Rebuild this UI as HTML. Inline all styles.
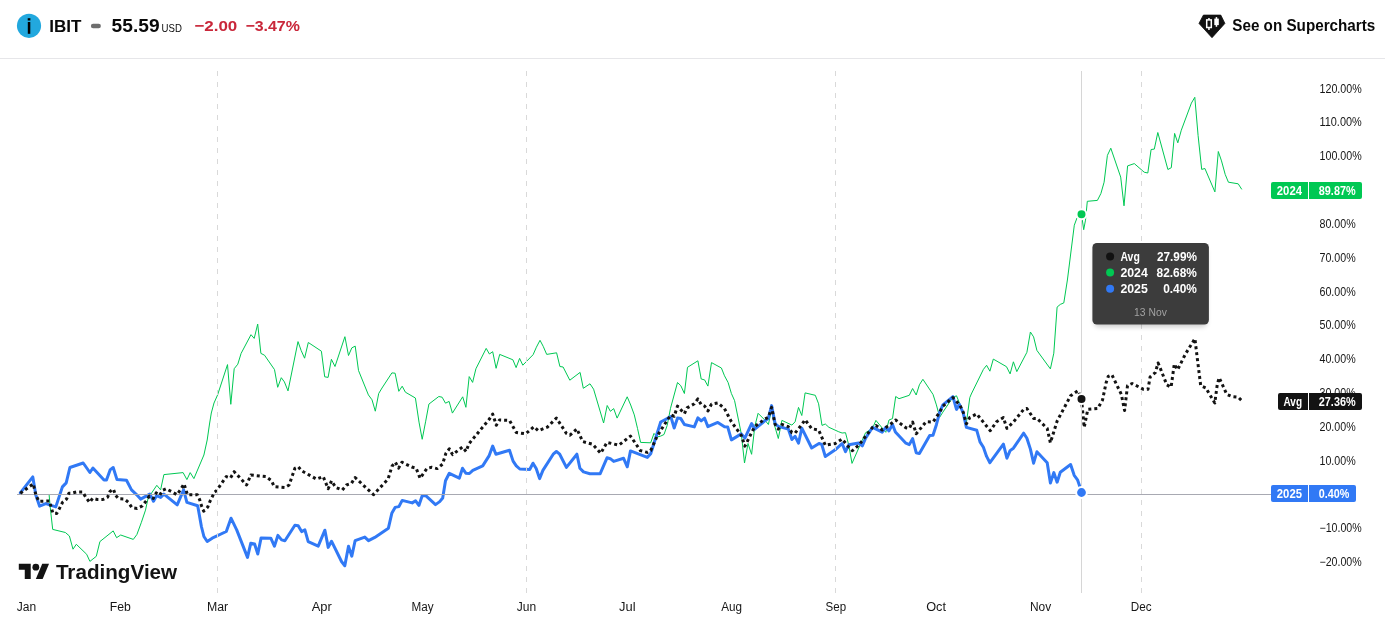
<!DOCTYPE html>
<html lang="en"><head><meta charset="utf-8"><title>IBIT seasonals</title>
<style>
html,body{margin:0;padding:0;background:#fff;}
body{width:1385px;height:631px;overflow:hidden;}
svg{display:block;font-family:"Liberation Sans", Arial, sans-serif;}
.ax{font-size:12px;fill:#161616;}
.lb{font-size:12px;fill:#fff;font-weight:700;}
.tt{font-size:12px;fill:#fff;font-weight:700;}
</style></head><body>
<svg width="1385" height="631" viewBox="0 0 1385 631">
<rect width="1385" height="631" fill="#fff"/>
<g id="header">
<circle cx="29" cy="25.8" r="12.1" fill="#22a8de"/>
<rect x="27.7" y="18.2" width="2.7" height="2.3" fill="#000"/>
<rect x="27.8" y="22" width="2.5" height="11.8" fill="#000"/>
<text x="49.3" y="31.7" font-size="17.2" font-weight="700" fill="#0a0a0a" textLength="32.2" lengthAdjust="spacingAndGlyphs">IBIT</text>
<rect x="90.9" y="23.8" width="10" height="4.4" rx="2.2" fill="#6e6e6e"/>
<text x="111.6" y="31.7" font-size="17.8" font-weight="700" fill="#0a0a0a" textLength="48" lengthAdjust="spacingAndGlyphs">55.59</text>
<text x="161.6" y="31.7" font-size="10.2" fill="#0a0a0a" textLength="20.3" lengthAdjust="spacingAndGlyphs">USD</text>
<text x="194.3" y="30.9" font-size="15.4" font-weight="700" fill="#c9273a" textLength="43" lengthAdjust="spacingAndGlyphs">−2.00</text>
<text x="245.4" y="30.9" font-size="15.4" font-weight="700" fill="#c9273a" textLength="54.5" lengthAdjust="spacingAndGlyphs">−3.47%</text>
<path d="M1203.4 15.1h17.4l4.1 8.3-12.9 14.3-13-14.3z" fill="#111" stroke="#111" stroke-width="0.8" stroke-linejoin="round"/>
<rect x="1208.2" y="18" width="1.5" height="12" fill="#fff"/>
<rect x="1206.7" y="19.9" width="4.6" height="7.6" fill="#111" stroke="#fff" stroke-width="1.5"/>
<rect x="1215.7" y="17.1" width="1.5" height="9.7" fill="#fff"/>
<rect x="1214.3" y="18.6" width="4.5" height="6.5" fill="#fff"/>
<text x="1232.3" y="30.9" font-size="16" font-weight="700" fill="#0a0a0a" textLength="143" lengthAdjust="spacingAndGlyphs">See on Supercharts</text>
<rect x="0" y="58" width="1385" height="1" fill="#e6e6e9"/>
</g>
<g class="ax">
<text x="1319.5" y="93.2" textLength="42.2" lengthAdjust="spacingAndGlyphs">120.00%</text>
<text x="1319.5" y="125.8" textLength="42.2" lengthAdjust="spacingAndGlyphs">110.00%</text>
<text x="1319.5" y="159.9" textLength="42.2" lengthAdjust="spacingAndGlyphs">100.00%</text>
<text x="1319.5" y="194.5" textLength="36.2" lengthAdjust="spacingAndGlyphs">90.00%</text>
<text x="1319.5" y="228.3" textLength="36.2" lengthAdjust="spacingAndGlyphs">80.00%</text>
<text x="1319.5" y="262.1" textLength="36.2" lengthAdjust="spacingAndGlyphs">70.00%</text>
<text x="1319.5" y="295.8" textLength="36.2" lengthAdjust="spacingAndGlyphs">60.00%</text>
<text x="1319.5" y="329.0" textLength="36.2" lengthAdjust="spacingAndGlyphs">50.00%</text>
<text x="1319.5" y="363.0" textLength="36.2" lengthAdjust="spacingAndGlyphs">40.00%</text>
<text x="1319.5" y="397.1" textLength="36.2" lengthAdjust="spacingAndGlyphs">30.00%</text>
<text x="1319.5" y="430.9" textLength="36.2" lengthAdjust="spacingAndGlyphs">20.00%</text>
<text x="1319.5" y="464.7" textLength="36.2" lengthAdjust="spacingAndGlyphs">10.00%</text>
<text x="1319.5" y="498.4" textLength="30" lengthAdjust="spacingAndGlyphs">0.00%</text>
<text x="1319.5" y="532.2" textLength="42.2" lengthAdjust="spacingAndGlyphs">−10.00%</text>
<text x="1319.5" y="566.0" textLength="42.2" lengthAdjust="spacingAndGlyphs">−20.00%</text>
</g>
<g class="ax">
<text x="16.7" y="610.8" textLength="19.4" lengthAdjust="spacingAndGlyphs">Jan</text>
<text x="109.7" y="610.8" textLength="21.1" lengthAdjust="spacingAndGlyphs">Feb</text>
<text x="207.0" y="610.8" textLength="21.2" lengthAdjust="spacingAndGlyphs">Mar</text>
<text x="311.7" y="610.8" textLength="20.1" lengthAdjust="spacingAndGlyphs">Apr</text>
<text x="411.4" y="610.8" textLength="22.1" lengthAdjust="spacingAndGlyphs">May</text>
<text x="516.7" y="610.8" textLength="19.4" lengthAdjust="spacingAndGlyphs">Jun</text>
<text x="619.0" y="610.8" textLength="16.5" lengthAdjust="spacingAndGlyphs">Jul</text>
<text x="721.3" y="610.8" textLength="20.8" lengthAdjust="spacingAndGlyphs">Aug</text>
<text x="825.6" y="610.8" textLength="20.5" lengthAdjust="spacingAndGlyphs">Sep</text>
<text x="926.2" y="610.8" textLength="19.8" lengthAdjust="spacingAndGlyphs">Oct</text>
<text x="1030.0" y="610.8" textLength="21.2" lengthAdjust="spacingAndGlyphs">Nov</text>
<text x="1130.7" y="610.8" textLength="20.8" lengthAdjust="spacingAndGlyphs">Dec</text>
</g>
<polyline fill="none" stroke="#00c853" stroke-width="1" stroke-linejoin="round" points="49.1,494.5 50.1,506.1 52.7,529.4 65.4,532.5 69.4,536.0 73.0,549.2 76.3,544.3 86.7,554.3 89.9,561.4 96.3,556.3 99.9,541.6 113.2,530.9 116.6,537.7 120.7,535.0 133.3,539.4 136.9,534.5 141.4,522.3 145.5,510.1 148.1,498.2 156.8,485.3 160.6,489.9 163.9,474.6 183.1,472.6 186.9,479.6 190.2,472.6 193.9,478.6 203.9,455.0 207.2,440.0 209.5,424.0 211.3,413.0 214.0,403.0 217.6,394.9 227.5,364.6 230.8,404.3 234.2,368.7 237.8,364.2 241.1,353.4 251.0,334.7 254.2,338.4 257.7,324.1 260.9,353.4 264.5,355.2 274.5,369.6 277.7,387.3 281.3,377.7 284.4,381.9 288.0,390.9 298.0,341.6 301.2,350.6 304.6,358.2 308.3,342.5 321.4,351.2 324.7,376.8 328.1,377.4 331.4,359.3 335.0,366.5 344.9,336.7 348.5,355.5 351.8,347.9 355.2,346.1 358.5,370.5 368.4,394.9 372.0,399.8 375.3,411.2 378.7,393.5 382.0,388.0 391.9,372.9 395.1,373.2 398.8,391.3 402.2,386.2 405.4,392.2 415.4,398.0 419.0,422.1 422.2,439.3 425.7,421.2 428.9,404.1 438.8,396.5 442.1,397.2 445.5,403.2 449.1,401.4 452.4,413.1 462.7,396.8 465.9,407.3 469.2,376.6 472.6,382.4 475.9,368.8 486.2,348.4 489.4,354.0 492.7,351.7 496.1,368.3 499.7,354.4 512.9,359.8 516.1,367.6 519.6,358.4 522.8,365.2 533.1,354.7 536.4,347.2 540.0,340.3 543.2,346.3 546.7,354.4 556.6,352.8 559.9,366.5 563.1,367.0 569.8,380.2 580.1,372.4 583.3,388.3 590.0,383.8 593.6,389.2 603.6,423.0 607.2,405.5 610.4,411.3 613.7,408.6 617.1,418.1 627.2,396.8 630.7,405.0 634.3,414.9 637.5,428.4 640.6,442.4 650.7,442.8 654.0,433.4 657.2,437.0 660.7,436.1 664.0,434.5 667.2,425.4 670.5,408.3 677.5,382.5 680.8,385.7 684.4,393.5 687.5,367.3 697.9,360.8 701.2,379.0 704.6,379.9 707.9,386.1 711.5,362.6 721.4,368.0 724.5,375.8 728.1,382.5 731.4,393.5 734.6,400.7 741.3,433.9 744.5,463.0 748.0,443.5 751.6,454.3 754.8,426.4 758.1,413.3 764.8,420.0 768.4,424.5 771.6,409.2 775.1,427.3 778.3,438.5 781.9,420.4 791.9,425.1 795.1,421.8 798.5,407.4 801.8,415.5 805.1,392.9 815.3,395.3 818.6,403.8 822.0,425.4 825.3,424.0 828.9,427.3 838.8,431.8 842.1,433.0 845.5,432.7 848.8,445.3 852.0,463.4 862.3,439.9 865.6,432.7 872.6,428.2 875.9,420.4 885.8,432.3 889.0,420.0 892.5,418.6 895.7,396.5 899.0,398.7 909.3,395.3 912.6,388.5 916.2,395.0 919.4,384.8 922.9,379.3 933.0,394.4 936.4,404.9 939.7,417.2 942.9,412.1 952.9,397.3 956.5,395.8 959.5,403.1 966.4,422.9 969.8,397.6 971.3,394.0 983.4,369.4 986.6,365.3 989.9,371.2 993.3,359.1 1006.5,366.7 1010.1,373.9 1013.4,361.8 1016.8,371.6 1026.9,352.3 1030.4,332.0 1033.6,336.9 1036.9,350.4 1050.4,368.9 1053.8,353.2 1057.1,307.1 1060.3,304.4 1063.8,302.9 1067.4,280.0 1074.3,225.2 1077.0,217.9 1081.5,214.3 1083.7,229.7 1085.5,220.1 1087.3,201.3 1097.4,200.4 1100.9,193.5 1104.1,182.2 1107.4,155.4 1110.8,148.2 1120.7,177.1 1124.0,205.8 1127.6,165.9 1134.3,163.6 1144.2,172.2 1147.8,173.0 1151.1,149.5 1154.3,149.1 1157.8,132.5 1167.9,169.5 1171.3,167.7 1174.6,133.4 1177.8,142.8 1181.3,130.2 1191.4,103.1 1194.8,97.3 1198.1,135.6 1201.7,169.4 1204.9,168.5 1214.9,191.9 1218.3,151.5 1221.5,160.9 1225.2,174.4 1228.4,182.2 1238.2,183.8 1241.8,189.4"/>
<polyline fill="none" stroke="#3179f5" stroke-width="3" stroke-linejoin="round" stroke-linecap="round" points="20.3,492.9 32.8,476.9 35.8,494.9 39.6,506.2 45.8,503.6 55.8,506.9 62.4,486.9 66.2,482.9 69.9,467.5 83.2,463.0 89.9,472.5 92.9,468.0 104.0,479.9 106.5,479.9 110.3,469.6 113.2,467.5 117.0,479.6 126.5,480.3 131.5,489.9 136.5,494.6 140.6,499.1 149.8,494.1 153.5,501.2 156.5,495.7 160.6,497.4 163.9,494.1 177.2,504.9 183.6,489.9 186.9,502.4 197.7,505.7 201.4,526.5 203.9,536.5 207.2,541.5 212.2,538.2 226.3,531.5 231.0,518.2 236.7,529.9 247.5,557.4 250.8,543.2 254.6,544.0 257.8,554.0 261.1,537.9 270.8,538.2 274.4,546.2 277.9,535.4 281.6,539.9 284.9,540.7 294.9,525.2 298.2,525.7 301.6,531.6 304.9,529.9 308.2,541.6 318.2,546.2 324.9,530.2 328.2,547.4 331.5,541.2 341.5,561.5 344.8,565.7 348.5,546.2 351.8,556.2 355.1,540.7 364.8,537.1 368.5,540.7 374.8,537.4 388.4,528.2 391.8,513.3 395.1,507.4 398.9,506.6 402.2,500.4 412.2,502.9 415.6,500.8 418.9,505.4 422.2,495.8 426.0,495.8 435.5,504.6 439.7,501.6 442.7,498.0 445.5,480.8 449.3,473.3 459.3,478.2 462.5,468.3 465.8,473.2 469.4,473.5 472.8,470.4 482.7,465.9 489.2,455.6 492.7,446.1 495.9,454.2 509.5,450.2 513.1,461.1 516.3,465.9 519.8,469.0 529.7,469.5 533.0,463.2 536.2,468.6 539.6,478.6 542.9,470.4 553.2,454.2 556.4,451.5 559.7,454.2 566.4,467.4 576.9,454.2 579.9,468.3 583.5,471.9 589.9,473.7 600.2,473.7 607.0,457.8 610.3,458.7 613.7,461.4 623.6,458.3 627.3,466.8 630.5,450.9 647.3,457.4 650.7,453.8 660.7,422.0 670.8,416.6 674.2,428.0 677.5,418.1 680.8,418.6 684.4,424.5 694.3,426.9 697.9,417.9 701.2,420.9 704.6,418.2 707.9,426.7 717.8,422.4 724.5,426.7 727.7,426.9 731.4,439.9 741.3,433.9 744.9,438.1 751.6,423.6 754.8,429.1 764.8,420.9 768.4,418.2 771.6,405.6 775.1,423.6 778.3,426.4 788.3,429.1 791.9,439.5 795.1,436.3 798.5,443.2 801.8,428.2 811.7,448.0 819.0,443.5 821.7,444.4 825.3,456.5 835.2,449.8 842.1,443.5 845.5,451.6 848.8,444.8 858.7,443.0 862.3,445.9 865.6,438.1 872.6,427.3 882.2,432.1 885.8,427.3 889.0,430.9 892.5,424.5 895.4,432.0 905.9,443.2 909.3,444.6 912.6,438.6 916.2,452.7 919.4,453.6 929.7,435.6 933.0,435.2 936.4,424.7 939.7,412.1 942.9,404.9 952.9,396.7 956.5,409.4 959.5,404.5 963.2,413.0 966.4,427.4 976.7,430.2 980.0,441.9 983.4,447.3 986.6,456.4 989.9,462.7 1003.4,444.2 1006.9,458.2 1010.1,450.6 1013.4,448.2 1023.7,433.2 1026.9,438.3 1030.4,449.1 1033.6,463.2 1036.9,451.8 1047.2,462.7 1050.4,483.1 1053.8,472.6 1057.1,482.2 1060.3,472.2 1070.6,464.5 1074.2,475.3 1077.5,479.8 1079.7,486.2 1081.5,492.1"/>
<line x1="17" y1="494.5" x2="1271" y2="494.5" stroke="#a8a9b2" stroke-width="1"/>
<polyline fill="none" stroke="#131313" stroke-width="3" stroke-dasharray="3 3" stroke-linejoin="round" points="20.3,493.3 33.2,483.8 35.9,495.0 38.8,501.3 49.4,501.0 52.9,513.2 56.7,513.4 59.6,508.2 62.5,502.4 66.6,499.0 68.9,493.2 71.8,493.2 76.4,492.0 82.8,492.0 85.7,497.2 89.7,502.4 92.6,498.4 97.2,499.5 103.0,499.5 107.6,497.2 110.0,491.4 113.4,489.1 115.7,495.5 118.6,498.7 124.4,499.0 128.5,502.4 131.9,507.6 137.1,508.4 142.3,505.9 145.8,501.3 149.3,496.1 153.3,498.4 156.2,492.9 159.7,495.3 162.6,490.3 166.1,488.8 171.8,491.8 177.0,494.7 180.5,489.7 184.0,483.9 185.7,489.1 187.5,494.9 192.1,494.7 197.3,494.7 199.6,499.5 201.3,505.3 203.7,511.1 207.7,507.1 210.0,501.3 214.6,492.0 216.4,490.8 226.3,476.6 230.5,477.9 234.2,471.7 246.6,485.0 250.8,475.0 265.8,476.6 271.6,480.8 274.1,486.6 284.9,487.5 289.1,485.0 294.9,468.3 298.2,466.7 301.6,470.8 316.5,479.1 323.2,476.6 328.2,488.8 331.5,480.8 335.7,487.5 342.3,490.0 346.5,485.0 351.5,483.3 355.1,477.5 364.8,486.6 373.5,494.6 388.1,479.1 392.0,466.2 395.3,462.2 398.6,468.1 401.9,462.2 411.7,467.0 416.1,468.1 420.1,478.3 427.0,468.4 431.7,467.3 437.2,468.6 442.6,464.1 445.9,453.3 449.3,448.8 452.6,454.6 462.5,447.0 466.1,451.5 468.8,443.9 489.2,419.3 492.7,414.1 496.3,425.3 499.5,419.9 509.5,420.4 516.3,432.5 525.7,433.8 533.9,426.7 538.4,430.7 547.4,427.1 556.4,418.1 566.4,433.4 570.0,435.2 576.9,428.9 582.6,441.5 592.6,444.3 600.7,453.3 607.0,442.4 618.8,445.2 630.5,436.1 640.4,450.6 647.3,452.4 650.7,450.6 657.6,435.2 670.8,414.8 674.2,416.3 677.5,406.1 684.4,413.7 687.1,407.9 694.3,403.8 697.9,398.9 701.2,404.7 704.6,406.1 707.9,411.0 711.5,404.1 717.8,402.9 724.5,408.6 731.4,421.8 741.3,435.4 744.9,446.2 751.6,432.7 754.8,426.4 764.8,419.1 768.4,417.3 771.6,407.4 775.1,424.5 778.3,429.1 781.9,424.5 788.3,426.7 791.9,432.7 795.1,433.0 801.8,424.5 805.1,419.7 811.7,428.7 818.6,430.0 825.3,445.3 835.2,443.5 842.1,439.0 848.8,447.1 852.4,450.7 858.7,445.3 865.6,436.3 872.6,427.3 875.9,425.4 882.2,430.0 889.0,425.4 895.7,420.0 905.9,427.8 909.3,428.4 912.6,422.0 916.2,433.8 926.1,421.7 933.0,422.0 939.7,412.1 942.9,406.1 952.9,397.6 959.5,404.5 963.2,412.1 966.4,423.8 969.8,417.5 976.7,413.9 990.3,430.7 996.6,421.7 1003.4,417.5 1006.9,428.4 1013.4,422.0 1023.7,409.4 1026.9,408.5 1033.6,418.4 1036.9,418.4 1047.2,428.4 1050.4,442.8 1057.1,421.1 1070.6,395.8 1077.9,390.7 1081.5,399.0 1084.2,427.4 1087.8,409.4 1097.7,408.5 1102.5,400.1 1106.1,382.8 1108.3,376.3 1111.9,374.8 1121.3,394.3 1124.6,410.5 1127.5,385.6 1132.1,383.5 1143.6,389.3 1148.0,389.3 1150.1,377.0 1155.2,372.7 1158.1,363.0 1160.3,368.3 1166.8,384.9 1171.1,387.1 1174.3,364.0 1177.6,369.8 1185.5,353.9 1194.9,338.7 1197.1,356.8 1200.7,385.6 1205.7,387.8 1214.8,403.0 1217.3,384.2 1219.2,377.7 1226.7,394.3 1231.7,396.5 1238.2,397.2 1241.8,400.8"/>
<g id="grid" stroke="#d9d9d9" stroke-width="1" stroke-dasharray="5 6" fill="none">
<line x1="217.5" y1="71" x2="217.5" y2="593"/>
<line x1="526.5" y1="71" x2="526.5" y2="593"/>
<line x1="835.5" y1="71" x2="835.5" y2="593"/>
<line x1="1141.5" y1="71" x2="1141.5" y2="593"/>
</g>
<line x1="1081.5" y1="71" x2="1081.5" y2="593" stroke="#d6d6d6" stroke-width="1"/>
<circle cx="1081.5" cy="214.3" r="5.0" fill="#00c853" stroke="#fff" stroke-width="2"/>
<circle cx="1081.5" cy="399" r="5.0" fill="#131313" stroke="#fff" stroke-width="2"/>
<circle cx="1081.5" cy="492.5" r="5.4" fill="#3179f5" stroke="#fff" stroke-width="2"/>
<path d="M1273 182H1308V199H1273a2 2 0 0 1-2-2V184a2 2 0 0 1 2-2z" fill="#00c853"/>
<path d="M1309 182H1360a2 2 0 0 1 2 2V197a2 2 0 0 1-2 2H1309z" fill="#00c853"/>
<text class="lb" x="1276.8" y="194.9" textLength="25.2" lengthAdjust="spacingAndGlyphs">2024</text>
<text class="lb" x="1318.8" y="194.9" textLength="36.8" lengthAdjust="spacingAndGlyphs">89.87%</text>
<path d="M1280 393H1308V410H1280a2 2 0 0 1-2-2V395a2 2 0 0 1 2-2z" fill="#131313"/>
<path d="M1309 393H1360a2 2 0 0 1 2 2V408a2 2 0 0 1-2 2H1309z" fill="#131313"/>
<text class="lb" x="1283.5" y="405.9" textLength="18.5" lengthAdjust="spacingAndGlyphs">Avg</text>
<text class="lb" x="1318.8" y="405.9" textLength="36.8" lengthAdjust="spacingAndGlyphs">27.36%</text>
<path d="M1273 485H1308V502H1273a2 2 0 0 1-2-2V487a2 2 0 0 1 2-2z" fill="#3179f5"/>
<path d="M1309 485H1354a2 2 0 0 1 2 2V500a2 2 0 0 1-2 2H1309z" fill="#3179f5"/>
<text class="lb" x="1276.8" y="497.9" textLength="25.2" lengthAdjust="spacingAndGlyphs">2025</text>
<text class="lb" x="1318.8" y="497.9" textLength="30.5" lengthAdjust="spacingAndGlyphs">0.40%</text>
<defs><filter id="sh" x="-20%" y="-20%" width="140%" height="150%"><feGaussianBlur stdDeviation="2.5"/></filter></defs>
<rect x="1094" y="248" width="113" height="79" rx="5" fill="#000" opacity="0.2" filter="url(#sh)"/>
<rect x="1092.4" y="243" width="116.5" height="81.6" rx="4.5" fill="#3c3c3c"/>
<circle cx="1110.1" cy="256.4" r="4" fill="#111111"/>
<text class="tt" x="1120.4" y="260.5" textLength="19.4" lengthAdjust="spacingAndGlyphs">Avg</text>
<text class="tt" x="1157.0" y="260.5" textLength="39.9" lengthAdjust="spacingAndGlyphs">27.99%</text>
<circle cx="1110.1" cy="272.59999999999997" r="4" fill="#00c853"/>
<text class="tt" x="1120.4" y="276.7" textLength="27.4" lengthAdjust="spacingAndGlyphs">2024</text>
<text class="tt" x="1156.6" y="276.7" textLength="40.3" lengthAdjust="spacingAndGlyphs">82.68%</text>
<circle cx="1110.1" cy="288.7" r="4" fill="#3179f5"/>
<text class="tt" x="1120.4" y="292.8" textLength="27.4" lengthAdjust="spacingAndGlyphs">2025</text>
<text class="tt" x="1163.2" y="292.8" textLength="33.7" lengthAdjust="spacingAndGlyphs">0.40%</text>
<text x="1134.1" y="315.5" font-size="11" fill="#a2a2a2" textLength="32.7" lengthAdjust="spacingAndGlyphs">13 Nov</text>
<g transform="translate(18.8 560.35) scale(0.852 0.85)" fill="#131313">
<path d="M14 22H7V11H0V4h14v18z"/><circle cx="20" cy="8" r="4"/><path d="M28 22h-8l7.5-18h8L28 22z"/>
</g>
<text x="55.9" y="578.9" font-size="21" font-weight="700" fill="#131313" textLength="121.3" lengthAdjust="spacingAndGlyphs">TradingView</text>
</svg></body></html>
